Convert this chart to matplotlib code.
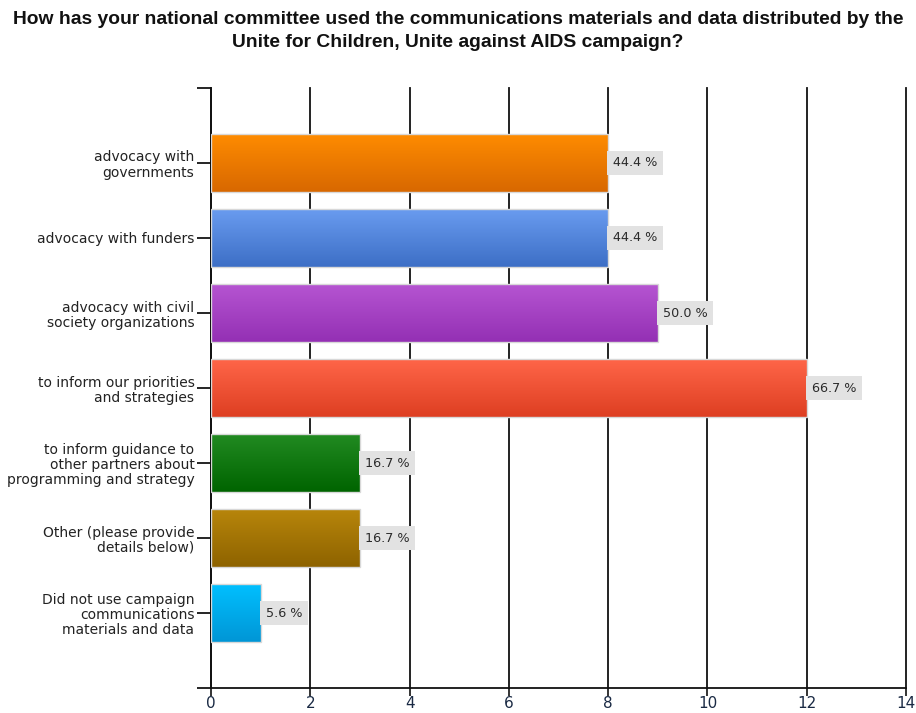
import matplotlib
matplotlib.use("Agg")
import matplotlib.pyplot as plt
import matplotlib.colors as mcolors
import numpy as np

plt.rcParams["font.family"] = ["DejaVu Sans"]

TITLE = ("How has your national committee used the communications materials and data distributed by the\n"
         "Unite for Children, Unite against AIDS campaign?")
TOTAL = 18
categories = [
    "advocacy with\ngovernments",
    "advocacy with funders",
    "advocacy with civil\nsociety organizations",
    "to inform our priorities\nand strategies",
    "to inform guidance to\nother partners about\nprogramming and strategy",
    "Other (please provide\ndetails below)",
    "Did not use campaign\ncommunications\nmaterials and data",
]
counts = [8, 8, 9, 12, 3, 3, 1]
# top / bottom colour of each bar's vertical gradient
top_colors = ["#ff8c00", "#6a9cf0", "#b655d2", "#ff6649", "#228b22", "#b8860b", "#00c0ff"]
bottom_colors = ["#d86800", "#3d6fc6", "#9430b4", "#de3f22", "#006400", "#8e6300", "#0096d6"]

fig = plt.figure(figsize=(9.16, 7.13), dpi=100)
ax = fig.add_axes([0.2304, 0.035, 0.7587, 0.8416])

pos = np.arange(1, len(categories) + 1)
bar_h = 0.78
bars = ax.barh(pos, counts, height=bar_h, color="none", edgecolor="#d8d8d8",
               linewidth=1.0, zorder=3)

for bar, c0, c1, n in zip(bars, top_colors, bottom_colors, counts):
    x0, y0 = bar.get_x(), bar.get_y()
    w, h = bar.get_width(), bar.get_height()
    cmap = mcolors.LinearSegmentedColormap.from_list("g", [c0, c1])
    grad = np.linspace(0, 1, 64).reshape(-1, 1)
    im = ax.imshow(grad, cmap=cmap, aspect="auto", zorder=2,
                   extent=(x0, x0 + w, y0 + h, y0), interpolation="bilinear")
    im.set_clip_path(bar)
    ax.text(x0 + w + 0.1, y0 + h / 2, f"{n / TOTAL * 100:.1f} %",
            va="center", ha="left", fontsize=9.2, color="#2a2a2a", zorder=4,
            bbox=dict(boxstyle="square,pad=0.45", fc="#e2e2e2", ec="none"))

ax.set_xlim(0, 14)
ax.set_ylim(len(categories) + 1, 0)
ax.set_xticks(range(0, 15, 2))
ax.set_yticks(pos)
ax.set_yticklabels(categories, fontsize=10.0, color="#222222", linespacing=1.1)
ax.set_yticks([0, len(categories) + 1], minor=True)
ax.tick_params(axis="y", which="both", length=10, width=1.2, pad=2)
ax.tick_params(axis="x", length=6, width=1.2, labelsize=11, pad=0,
               colors="#111111", labelcolor="#1a2a44")

ax.grid(axis="x", color="#111111", linewidth=1.3, zorder=1)
for gl in ax.get_xgridlines():
    gl.set_clip_on(False)
ax.set_axisbelow(True)
for s in ("top", "right"):
    ax.spines[s].set_visible(False)
for s in ("left", "bottom"):
    ax.spines[s].set_linewidth(1.3)
    ax.spines[s].set_color("#111111")

fig.text(0.5, 0.984, TITLE, ha="center", va="top", fontsize=13.9,
         fontweight="bold", linespacing=1.4, color="#111111",
         family=["Liberation Sans", "DejaVu Sans"])

fig.savefig("out.png", dpi=100)
